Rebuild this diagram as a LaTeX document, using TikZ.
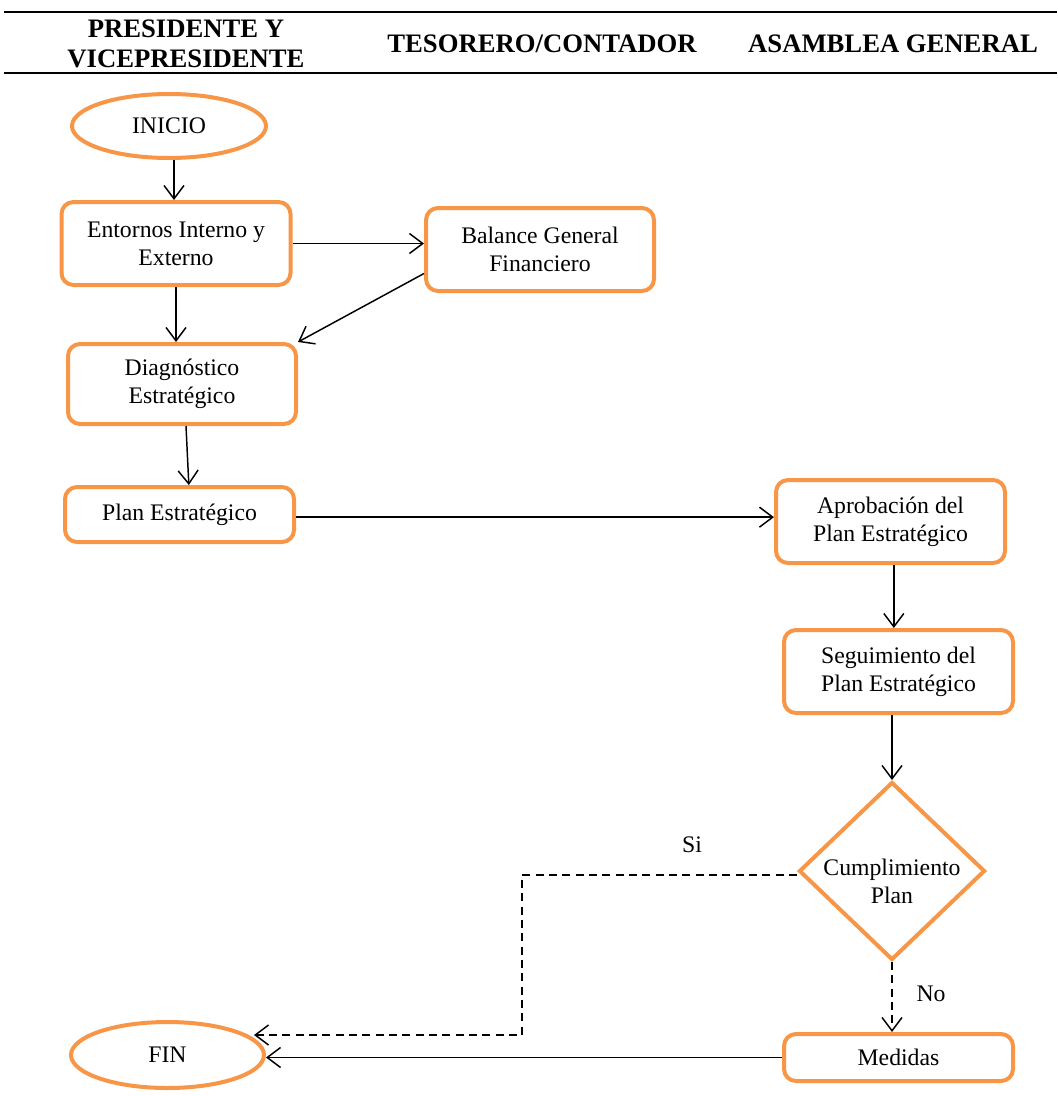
\documentclass[tikz,border=0pt]{standalone}
\usepackage{fontspec}
\setmainfont{Liberation Serif}
\usetikzlibrary{arrows.meta,shapes.geometric}
\definecolor{accent}{RGB}{247,150,70}
\begin{document}
\begin{tikzpicture}[x=0.75pt,y=-0.75pt,
  txt/.style={font=\fontsize{17.8}{21}\selectfont, align=center},
  head/.style={font=\fontsize{20}{22.5}\selectfont\bfseries, align=center, inner sep=0pt},
  box/.style={txt, draw=accent, line width=3pt, rounded corners=9pt, fill=white,
    minimum width=171.75pt, inner sep=0pt},
  term/.style={txt, draw=accent, line width=3pt, ellipse, inner sep=0pt, fill=white},
  decision/.style={draw=accent, line width=3pt, diamond, inner sep=0pt, fill=white},
  flow/.style={line width=1.1pt, -{Straight Barb[length=10pt,width=15pt,line width=1.1pt]}},
  alt/.style={flow, dash pattern=on 6pt off 4pt},
  rule/.style={line width=1.5pt}]
\useasboundingbox (0,0) rectangle (1057,1096);

% header
\coordinate (rl1) at (4,12);  \coordinate (rr1) at (1057,12);
\coordinate (rl2) at (4,73);  \coordinate (rr2) at (1057,73);
\draw[rule] (rl1) -- (rr1);
\draw[rule] (rl2) -- (rr2);
\node[head] (h1) at (186,44) {PRESIDENTE Y\\VICEPRESIDENTE};
\node[head] (h2) at (542,44) {TESORERO/CONTADOR};
\node[head] (h3) at (893,44) {ASAMBLEA GENERAL};

% nodes
\node[term, minimum width=145.5pt, minimum height=48pt] (inicio) at (169,126) {INICIO};
\node[box, minimum height=62.25pt] (entornos) at (176,243.5) {Entornos Interno y\\Externo};
\node[box, minimum width=171pt, minimum height=62.25pt] (balance) at (540,249.5) {Balance General\\Financiero};
\node[box, minimum width=171pt, minimum height=60pt] (diag) at (182,384) {Diagnóstico\\Estratégico};
\node[box, minimum height=41.25pt] (plan) at (179.5,514.5) {Plan Estratégico};
\node[box, minimum height=62.25pt] (aprob) at (890.5,521.5) {Aprobación del\\Plan Estratégico};
\node[box, minimum height=62.25pt] (seg) at (898.5,671.5) {Seguimiento del\\Plan Estratégico};
\node[decision, minimum width=139.5pt, minimum height=133.5pt,
  label={[txt, yshift=-7.5pt]center:Cumplimiento\\Plan}] (dia) at (892,871) {};
\node[box, minimum height=35.25pt] (med) at (898.5,1057.5) {Medidas};
\node[term, minimum width=144.75pt, minimum height=49.5pt] (fin) at (167.5,1055) {FIN};

% connectors
\draw[flow] ([xshift=3.75pt]inicio.south) -- ([xshift=-1.5pt]entornos.north);
\draw[flow] (entornos.east) -- (entornos.east -| balance.west);
\draw[flow] (entornos.south) -- (entornos.south |- diag.north);
\draw[flow] ([yshift=-18pt]balance.west) -- (diag.north east);
\draw[flow] ([xshift=3pt]diag.south) -- ([xshift=7pt]plan.north);
\draw[flow] ([yshift=-2pt]plan.east) -- ([yshift=-2pt]plan.east -| aprob.west);
\draw[flow] ([xshift=2.5pt]aprob.south) -- ([xshift=2.5pt]aprob.south |- seg.north);
\draw[flow] (dia.north |- seg.south) -- (dia.north);
\draw[alt] (dia.south) -- (dia.south |- med.north);
\coordinate (sibend) at (522,1035);
\draw[alt] ([yshift=-3pt]dia.west) -| (sibend) -- ([xshift=-9pt,yshift=15pt]fin.east);
\draw[flow] (med.west) -- (med.west -| fin.east);

% branch labels
\node[txt] (si) at (692,845) {Si};
\node[txt] (no) at (931,994) {No};
\end{tikzpicture}
\end{document}
